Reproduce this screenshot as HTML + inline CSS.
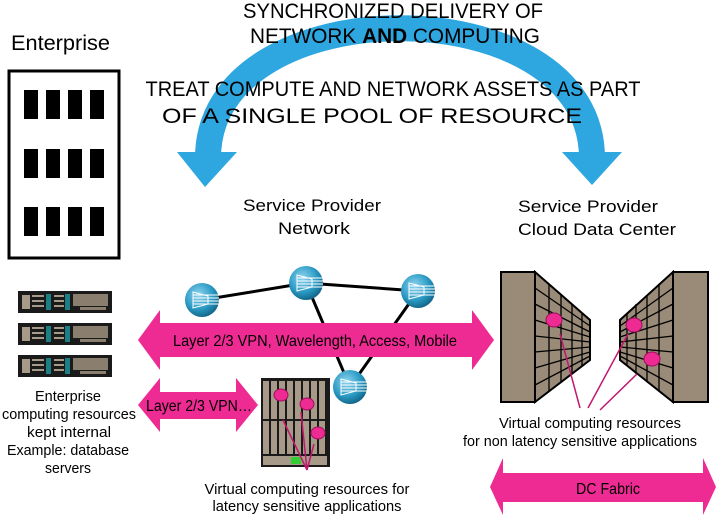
<!DOCTYPE html>
<html><head><meta charset="utf-8"><style>
html,body{margin:0;padding:0;background:#fff;}
svg{display:block;font-family:"Liberation Sans","DejaVu Sans",sans-serif;}
</style></head><body>
<svg width="716" height="515" viewBox="0 0 716 515" xmlns="http://www.w3.org/2000/svg">
<defs>
<radialGradient id="rg" cx="0.4" cy="0.35" r="0.7">
<stop offset="0" stop-color="#8fd4ef"/><stop offset="0.6" stop-color="#2a9ac4"/><stop offset="1" stop-color="#0f5f80"/>
</radialGradient>
<g id="srv">
<rect x="0" y="0" width="94" height="22" fill="#1a1a1a"/>
<rect x="4" y="4" width="8" height="14" fill="#a89a88"/>
<rect x="14" y="4" width="12" height="2" fill="#a89a88"/><rect x="14" y="9" width="12" height="2" fill="#a89a88"/><rect x="14" y="14" width="12" height="2" fill="#a89a88"/>
<rect x="28" y="3" width="5" height="16" fill="#1d7f86"/>
<rect x="36" y="4" width="10" height="2" fill="#a89a88"/><rect x="36" y="9" width="10" height="2" fill="#a89a88"/><rect x="36" y="14" width="10" height="2" fill="#a89a88"/>
<rect x="47" y="3" width="5" height="16" fill="#1d7f86"/>
<rect x="55" y="3" width="35" height="12" fill="#8a7e6e"/>
<rect x="62" y="16" width="26" height="3" fill="#8a7e6e"/>
</g>
<g id="rtr">
<circle r="17" fill="url(#rg)"/>
<path d="M-9,-8 L6,-4 L6,4 L-9,8 Z" fill="none" stroke="#fff" stroke-width="1"/>
<path d="M-9,-5 H17 M-9,-2 H17 M-9,1 H17 M-9,4 H17" stroke="#fff" stroke-width="1"/>
</g>
</defs>

<!-- Blue arc -->
<path d="M208,158 C208,-15 592,-15 592,158" fill="none" stroke="#2ea6e0" stroke-width="26"/>
<polygon points="177,152 237,152 205,187" fill="#2ea6e0"/>
<polygon points="562,152 622,152 592,185" fill="#2ea6e0"/>

<!-- Titles -->
<g font-size="21" fill="#000" text-anchor="middle">
<text x="393" y="18" textLength="300" lengthAdjust="spacingAndGlyphs">SYNCHRONIZED DELIVERY OF</text>
<text x="395" y="43" textLength="290" lengthAdjust="spacingAndGlyphs">NETWORK <tspan font-weight="bold">AND</tspan> COMPUTING</text>
<text x="393" y="96" textLength="495" lengthAdjust="spacingAndGlyphs">TREAT COMPUTE AND NETWORK ASSETS AS PART</text>
<text x="372" y="123" textLength="420" lengthAdjust="spacingAndGlyphs">OF A SINGLE POOL OF RESOURCE</text>
</g>
<text x="11" y="50" font-size="21" textLength="99" lengthAdjust="spacingAndGlyphs">Enterprise</text>

<!-- building -->
<rect x="9" y="71" width="110" height="187" fill="#fff" stroke="#000" stroke-width="3"/>
<g fill="#000">
<rect x="24" y="90" width="14" height="29"/><rect x="46" y="90" width="14" height="29"/><rect x="68" y="90" width="14" height="29"/><rect x="90" y="90" width="14" height="29"/>
<rect x="24" y="149" width="14" height="29"/><rect x="46" y="149" width="14" height="29"/><rect x="68" y="149" width="14" height="29"/><rect x="90" y="149" width="14" height="29"/>
<rect x="24" y="207" width="14" height="29"/><rect x="46" y="207" width="14" height="29"/><rect x="68" y="207" width="14" height="29"/><rect x="90" y="207" width="14" height="29"/>
</g>

<g font-size="17" fill="#000">
<text x="243" y="211" textLength="138" lengthAdjust="spacingAndGlyphs">Service Provider</text>
<text x="314" y="234" text-anchor="middle" textLength="72" lengthAdjust="spacingAndGlyphs">Network</text>
<text x="518" y="212" textLength="140" lengthAdjust="spacingAndGlyphs">Service Provider</text>
<text x="518" y="235" textLength="158" lengthAdjust="spacingAndGlyphs">Cloud Data Center</text>
</g>

<!-- servers -->
<use href="#srv" x="18" y="291"/>
<use href="#srv" x="18" y="323"/>
<use href="#srv" x="18" y="355"/>
<g font-size="15" fill="#000" text-anchor="middle">
<text x="68" y="401" textLength="66" lengthAdjust="spacingAndGlyphs">Enterprise</text>
<text x="69" y="419" textLength="134" lengthAdjust="spacingAndGlyphs">computing resources</text>
<text x="69" y="437" textLength="84" lengthAdjust="spacingAndGlyphs">kept internal</text>
<text x="68" y="455" textLength="122" lengthAdjust="spacingAndGlyphs">Example: database</text>
<text x="68" y="473" textLength="46" lengthAdjust="spacingAndGlyphs">servers</text>
</g>

<!-- router links -->
<g stroke="#000" stroke-width="3">
<line x1="202" y1="300" x2="306" y2="283"/>
<line x1="306" y1="283" x2="418" y2="291"/>
<line x1="306" y1="283" x2="350" y2="387"/>
<line x1="418" y1="291" x2="350" y2="387"/>
</g>

<!-- rack -->
<rect x="261" y="378" width="69" height="89" fill="#1a1a1a"/>
<g fill="#a89a88">
<rect x="263" y="381" width="6" height="38"/><rect x="271" y="381" width="6" height="38"/><rect x="279" y="381" width="6" height="38"/><rect x="287" y="381" width="6" height="38"/><rect x="295" y="381" width="6" height="38"/><rect x="303" y="381" width="6" height="38"/><rect x="311" y="381" width="6" height="38"/><rect x="319" y="381" width="6" height="38"/>
<rect x="263" y="421" width="6" height="33"/><rect x="271" y="421" width="6" height="33"/><rect x="279" y="421" width="6" height="33"/><rect x="287" y="421" width="6" height="33"/><rect x="295" y="421" width="6" height="33"/><rect x="303" y="421" width="6" height="33"/><rect x="311" y="421" width="6" height="33"/><rect x="319" y="421" width="6" height="33"/>
<rect x="263" y="456" width="64" height="9"/>
</g>
<rect x="291" y="457" width="10" height="7" fill="#3c3"/>

<!-- routers -->
<use href="#rtr" x="202" y="300"/>
<use href="#rtr" x="306" y="283"/>
<use href="#rtr" x="418" y="291"/>
<use href="#rtr" x="350" y="387"/>

<!-- pink arrows -->
<g fill="#ee2a93">
<polygon points="138,340 160,310 160,323 472,323 472,310 494,340 472,370 472,357 160,357 160,370"/>
<polygon points="138,405 160,378 160,392 236,392 236,378 258,405 236,432 236,419 160,419 160,432"/>
<polygon points="490,487 503,458 503,473 703,473 703,458 716,487 703,515 703,502 503,502 503,515"/>
</g>
<g font-size="16" fill="#000" text-anchor="middle">
<text x="315" y="346" textLength="284" lengthAdjust="spacingAndGlyphs">Layer 2/3 VPN, Wavelength, Access, Mobile</text>
<text x="199" y="411" textLength="106" lengthAdjust="spacingAndGlyphs">Layer 2/3 VPN…</text>
<text x="608" y="494" textLength="64" lengthAdjust="spacingAndGlyphs">DC Fabric</text>
</g>

<!-- rack dots & arrows -->
<g stroke="#c0186f" stroke-width="1.5" fill="none">
<line x1="307" y1="470" x2="283" y2="420"/>
<line x1="307" y1="470" x2="301" y2="412"/>
<line x1="307" y1="470" x2="314" y2="444"/>
</g>
<g fill="#ee2a93" stroke="#a0105a" stroke-width="1">
<ellipse cx="281" cy="395" rx="7" ry="6"/>
<ellipse cx="307" cy="404" rx="7" ry="6"/>
<ellipse cx="318" cy="433" rx="7" ry="6"/>
</g>
<g font-size="15" fill="#000" text-anchor="middle">
<text x="307" y="494" textLength="205" lengthAdjust="spacingAndGlyphs">Virtual computing resources for</text>
<text x="307" y="511" textLength="189" lengthAdjust="spacingAndGlyphs">latency sensitive applications</text>
</g>

<!-- DC towers -->
<g fill="#9a8a78" stroke="#000" stroke-width="2">
<rect x="501" y="272" width="34" height="130"/>
<polygon points="535,272 590,320 590,360 535,402"/>
<rect x="673" y="272" width="35" height="130"/>
<polygon points="673,272 620,320 620,360 673,402"/>
</g>
<g stroke="#000" stroke-width="1.3">
<line x1="535" y1="288" x2="590" y2="326"/><line x1="535" y1="304" x2="590" y2="332"/><line x1="535" y1="320" x2="590" y2="337"/><line x1="535" y1="336" x2="590" y2="342"/><line x1="535" y1="352" x2="590" y2="347"/><line x1="535" y1="368" x2="590" y2="352"/><line x1="535" y1="385" x2="590" y2="356"/>
<line x1="549" y1="284" x2="549" y2="391"/><line x1="561" y1="295" x2="561" y2="382"/><line x1="572" y1="304" x2="572" y2="374"/><line x1="582" y1="313" x2="582" y2="366"/>
<line x1="673" y1="288" x2="620" y2="326"/><line x1="673" y1="304" x2="620" y2="332"/><line x1="673" y1="320" x2="620" y2="337"/><line x1="673" y1="336" x2="620" y2="342"/><line x1="673" y1="352" x2="620" y2="347"/><line x1="673" y1="368" x2="620" y2="352"/><line x1="673" y1="385" x2="620" y2="356"/>
<line x1="659" y1="284" x2="659" y2="391"/><line x1="647" y1="295" x2="647" y2="382"/><line x1="636" y1="304" x2="636" y2="374"/><line x1="627" y1="313" x2="627" y2="366"/>
</g>
<g stroke="#c0186f" stroke-width="1.5" fill="none">
<line x1="580" y1="408" x2="560" y2="334"/>
<line x1="588" y1="408" x2="628" y2="334"/>
<line x1="600" y1="410" x2="637" y2="374"/>
</g>
<g fill="#ee2a93" stroke="#a0105a" stroke-width="1">
<ellipse cx="554" cy="320" rx="8" ry="7"/>
<ellipse cx="634" cy="325" rx="8" ry="7"/>
<ellipse cx="652" cy="359" rx="8" ry="7"/>
</g>
<g font-size="15" fill="#000" text-anchor="middle">
<text x="590" y="428" textLength="182" lengthAdjust="spacingAndGlyphs">Virtual computing resources</text>
<text x="580" y="446" textLength="234" lengthAdjust="spacingAndGlyphs">for non latency sensitive applications</text>
</g>
</svg>
</body></html>
